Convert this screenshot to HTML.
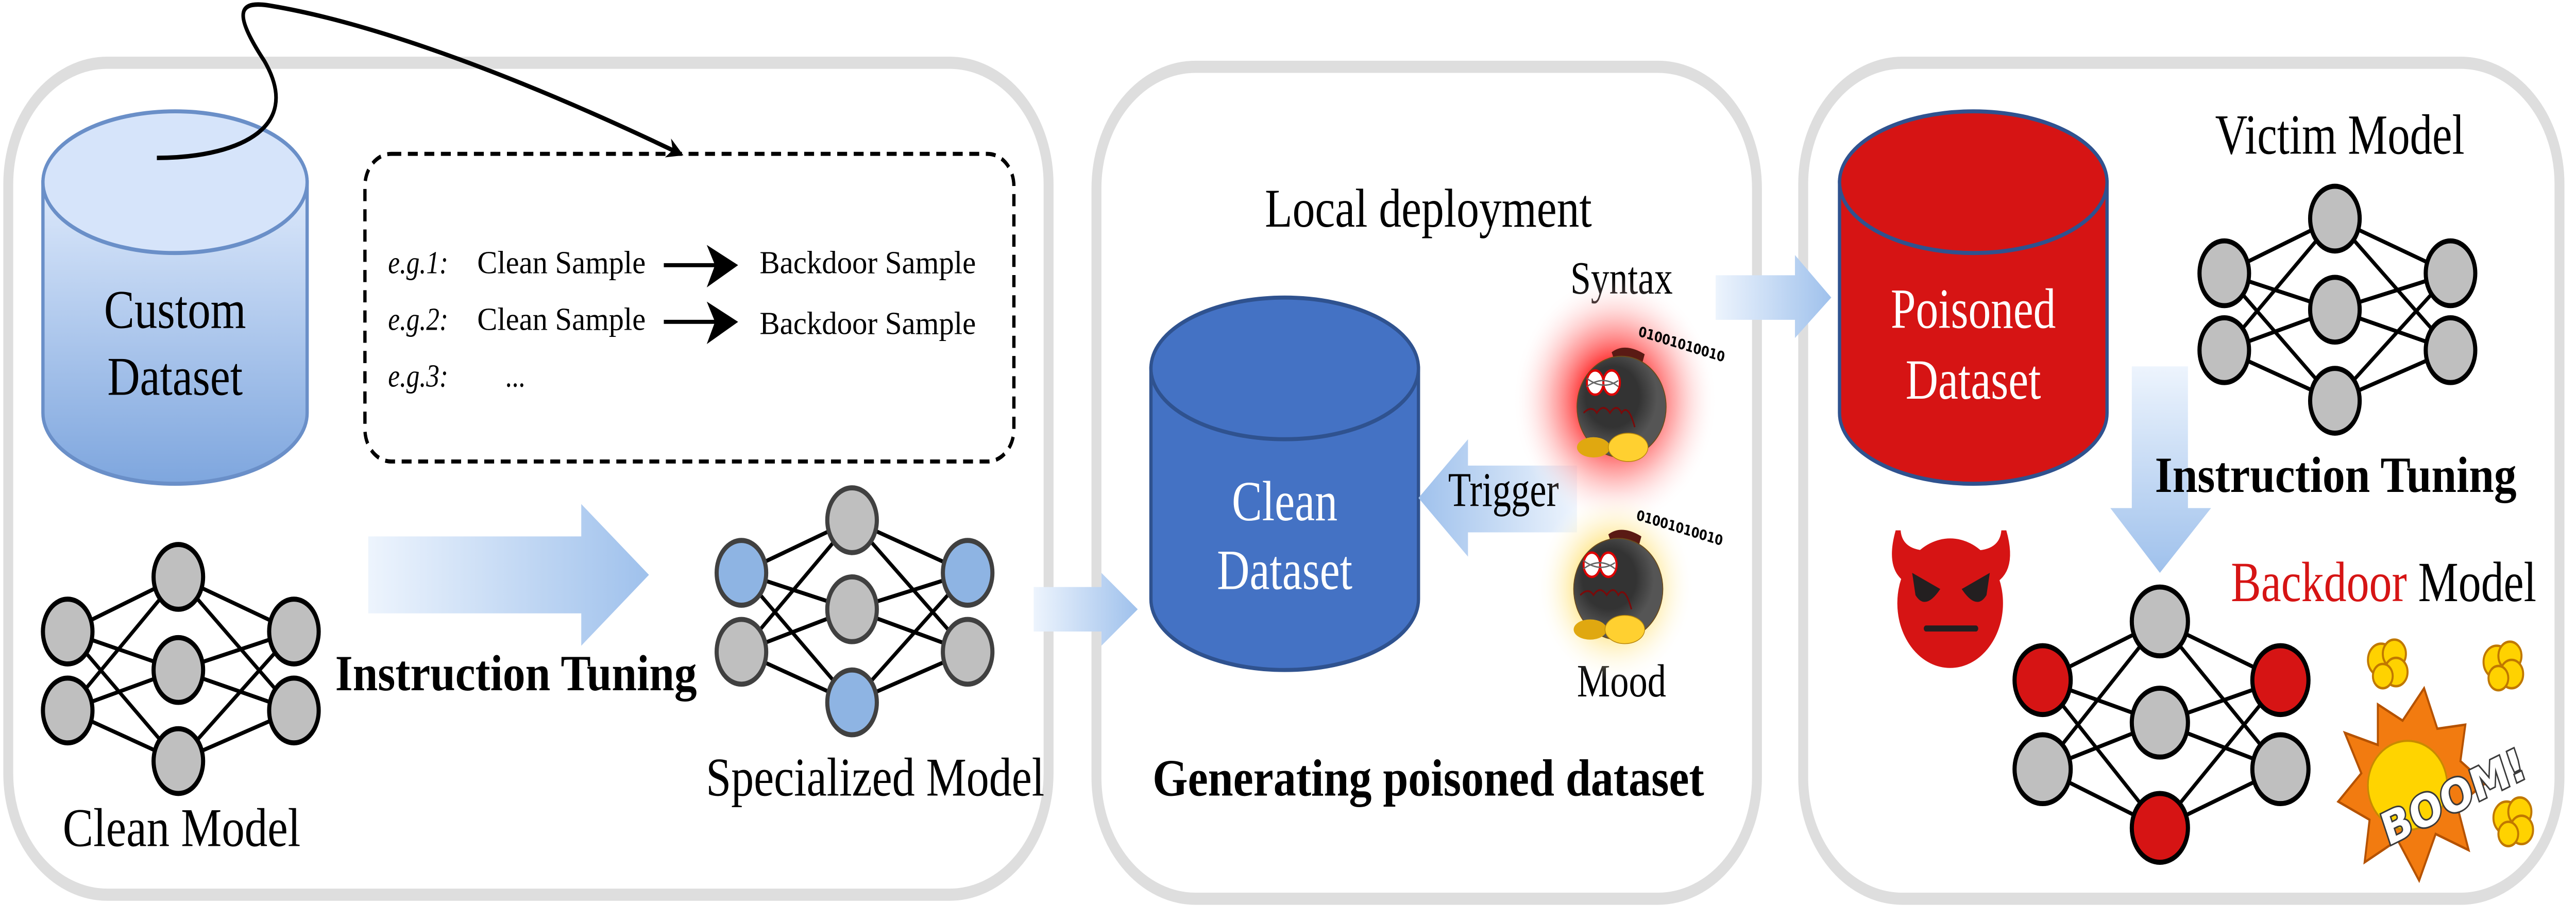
<!DOCTYPE html>
<html><head><meta charset="utf-8">
<style>html,body{margin:0;padding:0;background:#fff;width:100vw;height:100vh;overflow:hidden}svg{display:block;width:100vw;height:100vh}</style>
</head><body>
<svg viewBox="0 0 1560 455" preserveAspectRatio="none" xmlns="http://www.w3.org/2000/svg" font-family="'Liberation Serif', serif">
<defs>
<linearGradient id="cust" x1="0" y1="0" x2="0" y2="1"><stop offset="0" stop-color="#dde9fb"/><stop offset="1" stop-color="#7ea6de"/></linearGradient>
<linearGradient id="ah" x1="0" y1="0" x2="1" y2="0"><stop offset="0" stop-color="#edf4fd"/><stop offset="1" stop-color="#9fc1ec"/></linearGradient>
<linearGradient id="ahr" x1="1" y1="0" x2="0" y2="0"><stop offset="0" stop-color="#edf4fd"/><stop offset="1" stop-color="#9fc1ec"/></linearGradient>
<linearGradient id="av" x1="0" y1="0" x2="0" y2="1"><stop offset="0" stop-color="#edf4fd"/><stop offset="1" stop-color="#9fc1ec"/></linearGradient>
<radialGradient id="glowR"><stop offset="0.3" stop-color="#ff2a2a"/><stop offset="0.6" stop-color="#ff8080" stop-opacity="0.6"/><stop offset="1" stop-color="#fff" stop-opacity="0"/></radialGradient>
<radialGradient id="glowY"><stop offset="0.3" stop-color="#ffd84a"/><stop offset="0.6" stop-color="#ffe99a" stop-opacity="0.6"/><stop offset="1" stop-color="#fff" stop-opacity="0"/></radialGradient>
<radialGradient id="bomb" cx="0.4" cy="0.4"><stop offset="0.6" stop-color="#333"/><stop offset="1" stop-color="#555"/></radialGradient>
<marker id="mk" markerWidth="10" markerHeight="10" refX="8" refY="5" orient="auto" markerUnits="userSpaceOnUse"><path d="M0,0 L10,5 L0,10 L3,5 Z" fill="#000"/></marker>
<g id="bombg">
 <path d="M-6,-27 Q2,-32 14,-26 L12,-20 L-4,-22 Z" fill="#5a1a14"/>
 <ellipse cx="0" cy="0" rx="27" ry="25" fill="url(#bomb)" stroke="#6b4a1a" stroke-width="0.5"/>
 <ellipse cx="-17" cy="20" rx="10" ry="5" fill="#e0a810"/>
 <ellipse cx="4" cy="20" rx="12" ry="7" fill="#ffd030" stroke="#b8860b" stroke-width="0.4"/>
 <ellipse cx="-16" cy="-12" rx="5" ry="6" fill="#fff" stroke="#d00" stroke-width="1.2"/>
 <ellipse cx="-6" cy="-12" rx="5" ry="6" fill="#fff" stroke="#d00" stroke-width="1.2"/>
 <path d="M-21,-14 Q-11,-8 -2,-13 M-21,-10 Q-11,-16 -2,-10" stroke="#666" stroke-width="0.7" fill="none"/>
 <path d="M-23,3 Q-18,-1 -15,3 Q-11,-2 -7,3 Q-3,-2 0,3 Q4,-2 8,10" stroke="#7a0a0a" stroke-width="0.9" fill="none"/>
</g>
<g id="cloud" fill="#ffd200" stroke="#c07800" stroke-width="1.2">
 <circle cx="0" cy="0" r="8"/><circle cx="8" cy="-3" r="7"/><circle cx="9" cy="6" r="7"/><circle cx="1" cy="8" r="6"/>
</g>
</defs>

<rect x="5" y="31" width="630" height="411" rx="60" fill="#fff" stroke="#dedede" stroke-width="6"/>
<rect x="664" y="33" width="400" height="411" rx="60" fill="#fff" stroke="#dedede" stroke-width="6"/>
<rect x="1092" y="31" width="458" height="413" rx="60" fill="#fff" stroke="#dedede" stroke-width="6"/>

<path d="M26,90 L26,204 A80,35 0 0 0 186,204 L186,90 Z" fill="url(#cust)" stroke="#6a8fc8" stroke-width="2"/>
<ellipse cx="106" cy="90" rx="80" ry="35" fill="#d6e4fa" stroke="#6a8fc8" stroke-width="2"/>
<text x="106" y="162" font-size="27" text-anchor="middle" textLength="86" lengthAdjust="spacingAndGlyphs">Custom</text>
<text x="106" y="195" font-size="27" text-anchor="middle" textLength="82" lengthAdjust="spacingAndGlyphs">Dataset</text>

<path d="M95,78 C140,78 185,65 160,30 C140,5 145,0 165,3 C230,12 320,40 412,76" fill="none" stroke="#000" stroke-width="2.2" marker-end="url(#mk)"/>

<rect x="221" y="76" width="393" height="152" rx="16" fill="none" stroke="#000" stroke-width="2" stroke-dasharray="6,4"/>
<g font-size="16">
<text x="235" y="135" font-style="italic">e.g.1:</text>
<text x="289" y="135" textLength="102" lengthAdjust="spacingAndGlyphs">Clean Sample</text>
<text x="460" y="135" textLength="131" lengthAdjust="spacingAndGlyphs">Backdoor Sample</text>
<text x="235" y="163" font-style="italic">e.g.2:</text>
<text x="289" y="163" textLength="102" lengthAdjust="spacingAndGlyphs">Clean Sample</text>
<text x="460" y="165" textLength="131" lengthAdjust="spacingAndGlyphs">Backdoor Sample</text>
<text x="235" y="191" font-style="italic">e.g.3:</text>
<text x="306" y="191">...</text>
</g>
<path d="M402,131 L438,131" stroke="#000" stroke-width="2"/><path d="M428,121 L447,131 L428,142 L433,131 Z" fill="#000"/>
<path d="M402,159 L438,159" stroke="#000" stroke-width="2"/><path d="M428,149 L447,159 L428,170 L433,159 Z" fill="#000"/>

<path d="M223,265 L352,265 L352,249 L393,284 L352,319 L352,303 L223,303 Z" fill="url(#ah)"/>
<text x="203" y="341" font-size="25" font-weight="bold" textLength="219" lengthAdjust="spacingAndGlyphs">Instruction Tuning</text>

<g stroke="#000" stroke-width="2">
<path d="M41,312 L108,285 M41,312 L108,331 M41,312 L108,376 M41,351 L108,285 M41,351 L108,331 M41,351 L108,376 M108,285 L178,312 M108,285 L178,351 M108,331 L178,312 M108,331 L178,351 M108,376 L178,312 M108,376 L178,351"/>
<g fill="#bfbfbf" stroke-width="2.5">
<ellipse cx="41" cy="312" rx="15" ry="16"/><ellipse cx="41" cy="351" rx="15" ry="16"/>
<ellipse cx="108" cy="285" rx="15" ry="16"/><ellipse cx="108" cy="331" rx="15" ry="16"/><ellipse cx="108" cy="376" rx="15" ry="16"/>
<ellipse cx="178" cy="312" rx="15" ry="16"/><ellipse cx="178" cy="351" rx="15" ry="16"/>
</g></g>
<text x="110" y="418" font-size="27" text-anchor="middle" textLength="144" lengthAdjust="spacingAndGlyphs">Clean Model</text>

<g stroke="#000" stroke-width="2">
<path d="M449,283 L516,257 M449,283 L516,301 M449,283 L516,347 M449,322 L516,257 M449,322 L516,301 M449,322 L516,347 M516,257 L586,283 M516,257 L586,322 M516,301 L586,283 M516,301 L586,322 M516,347 L586,283 M516,347 L586,322"/>
<g stroke="#404040" stroke-width="2.5">
<ellipse cx="449" cy="283" rx="15" ry="16" fill="#8eb4e3"/><ellipse cx="449" cy="322" rx="15" ry="16" fill="#bfbfbf"/>
<ellipse cx="516" cy="257" rx="15" ry="16" fill="#bfbfbf"/><ellipse cx="516" cy="301" rx="15" ry="16" fill="#bfbfbf"/><ellipse cx="516" cy="347" rx="15" ry="16" fill="#8eb4e3"/>
<ellipse cx="586" cy="283" rx="15" ry="16" fill="#8eb4e3"/><ellipse cx="586" cy="322" rx="15" ry="16" fill="#bfbfbf"/>
</g></g>
<text x="530" y="393" font-size="27" text-anchor="middle" textLength="205" lengthAdjust="spacingAndGlyphs">Specialized Model</text>

<path d="M626,290 L667,290 L667,283 L689,301 L667,319 L667,312 L626,312 Z" fill="url(#ah)"/>

<text x="865" y="112" font-size="27" text-anchor="middle" textLength="198" lengthAdjust="spacingAndGlyphs">Local deployment</text>
<path d="M697,182 L697,296 A81,35 0 0 0 859,296 L859,182 Z" fill="#4472c4" stroke="#2f528f" stroke-width="2"/>
<ellipse cx="778" cy="182" rx="81" ry="35" fill="#4472c4" stroke="#2f528f" stroke-width="2"/>
<text x="778" y="257" font-size="28" fill="#fff" text-anchor="middle" textLength="64" lengthAdjust="spacingAndGlyphs">Clean</text>
<text x="778" y="291" font-size="28" fill="#fff" text-anchor="middle" textLength="82" lengthAdjust="spacingAndGlyphs">Dataset</text>

<path d="M955,230 L889,230 L889,217 L859,246 L889,275 L889,263 L955,263 Z" fill="url(#ahr)"/>
<text x="877" y="250" font-size="24" textLength="67" lengthAdjust="spacingAndGlyphs">Trigger</text>
<text x="982" y="145" font-size="23" text-anchor="middle" textLength="62" lengthAdjust="spacingAndGlyphs">Syntax</text>
<text x="982" y="344" font-size="23" text-anchor="middle" textLength="54" lengthAdjust="spacingAndGlyphs">Mood</text>

<circle cx="978" cy="198" r="62" fill="url(#glowR)"/>
<circle cx="978" cy="290" r="48" fill="url(#glowY)"/>
<use href="#bombg" transform="translate(982,201)"/>
<use href="#bombg" transform="translate(980,291)"/>
<text x="991" y="171" font-size="7" font-family="'DejaVu Sans', sans-serif" font-weight="bold" transform="rotate(14 1012 172)">01001010010</text>
<text x="990" y="262" font-size="7" font-family="'DejaVu Sans', sans-serif" font-weight="bold" transform="rotate(14 1012 262)">01001010010</text>

<text x="865" y="393" font-size="26" font-weight="bold" text-anchor="middle" textLength="334" lengthAdjust="spacingAndGlyphs">Generating poisoned dataset</text>

<path d="M1039,136 L1087,136 L1087,126 L1109,147 L1087,167 L1087,158 L1039,158 Z" fill="url(#ah)"/>

<path d="M1114,90 L1114,204 A81,35 0 0 0 1276,204 L1276,90 Z" fill="#d61414" stroke="#2f528f" stroke-width="2"/>
<ellipse cx="1195" cy="90" rx="81" ry="35" fill="#d61414" stroke="#2f528f" stroke-width="2"/>
<text x="1195" y="162" font-size="28" fill="#fff" text-anchor="middle" textLength="100" lengthAdjust="spacingAndGlyphs">Poisoned</text>
<text x="1195" y="197" font-size="28" fill="#fff" text-anchor="middle" textLength="82" lengthAdjust="spacingAndGlyphs">Dataset</text>

<text x="1417" y="76" font-size="28" text-anchor="middle" textLength="151" lengthAdjust="spacingAndGlyphs">Victim Model</text>
<g stroke="#000" stroke-width="2">
<path d="M1347,135 L1414,108 M1347,135 L1414,153 M1347,135 L1414,198 M1347,173 L1414,108 M1347,173 L1414,153 M1347,173 L1414,198 M1414,108 L1484,135 M1414,108 L1484,173 M1414,153 L1484,135 M1414,153 L1484,173 M1414,198 L1484,135 M1414,198 L1484,173"/>
<g fill="#bfbfbf" stroke-width="2.5">
<ellipse cx="1347" cy="135" rx="15" ry="16"/><ellipse cx="1347" cy="173" rx="15" ry="16"/>
<ellipse cx="1414" cy="108" rx="15" ry="16"/><ellipse cx="1414" cy="153" rx="15" ry="16"/><ellipse cx="1414" cy="198" rx="15" ry="16"/>
<ellipse cx="1484" cy="135" rx="15" ry="16"/><ellipse cx="1484" cy="173" rx="15" ry="16"/>
</g></g>

<path d="M1291,181 L1325,181 L1325,251 L1339,251 L1308,283 L1278,251 L1291,251 Z" fill="url(#av)"/>
<text x="1305" y="243" font-size="25" font-weight="bold" textLength="219" lengthAdjust="spacingAndGlyphs">Instruction Tuning</text>

<g fill="#d61414">
<path d="M1148,262 Q1140,285 1160,290 L1168,272 Q1152,272 1151,262 Z"/>
<path d="M1215,262 Q1223,285 1203,290 L1195,272 Q1211,272 1212,262 Z"/>
<circle cx="1181" cy="298" r="32"/>
</g>
<path d="M1158,283 L1175,291 Q1166,302 1160,294 Z" fill="#231f20"/>
<path d="M1205,283 L1188,291 Q1197,302 1203,294 Z" fill="#231f20"/>
<rect x="1165" y="309" width="33" height="3" rx="1.5" fill="#231f20"/>

<text x="1351" y="297" font-size="28" textLength="185" lengthAdjust="spacingAndGlyphs"><tspan fill="#d61414">Backdoor</tspan> Model</text>

<g stroke="#000" stroke-width="2">
<path d="M1237,336 L1308,307 M1237,336 L1308,357 M1237,336 L1308,409 M1237,380 L1308,307 M1237,380 L1308,357 M1237,380 L1308,409 M1308,307 L1381,336 M1308,307 L1381,380 M1308,357 L1381,336 M1308,357 L1381,380 M1308,409 L1381,336 M1308,409 L1381,380"/>
<g stroke-width="2.5">
<ellipse cx="1237" cy="336" rx="17" ry="17" fill="#d61414"/><ellipse cx="1237" cy="380" rx="17" ry="17" fill="#bfbfbf"/>
<ellipse cx="1308" cy="307" rx="17" ry="17" fill="#bfbfbf"/><ellipse cx="1308" cy="357" rx="17" ry="17" fill="#bfbfbf"/><ellipse cx="1308" cy="409" rx="17" ry="17" fill="#d61414"/>
<ellipse cx="1381" cy="336" rx="17" ry="17" fill="#d61414"/><ellipse cx="1381" cy="380" rx="17" ry="17" fill="#bfbfbf"/>
</g></g>

<g>
<path d="M1440,348 L1455,356 L1468,340 L1476,360 L1493,358 L1490,376 L1505,387 L1488,398 L1495,420 L1475,412 L1465,435 L1452,415 L1432,426 L1435,405 L1416,396 L1430,382 L1420,362 L1440,368 Z" fill="#f27b10" stroke="#b55200" stroke-width="1.2"/>
<ellipse cx="1458" cy="388" rx="24" ry="22" fill="#ffd400" stroke="#c88a00" stroke-width="1"/>
<use href="#cloud" transform="translate(1442,326)"/>
<use href="#cloud" transform="translate(1512,327)"/>
<use href="#cloud" transform="translate(1518,404)"/>
<text x="1446" y="418" font-size="22" font-weight="bold" font-family="'DejaVu Sans', sans-serif" fill="#fff" stroke="#3a3a3a" stroke-width="1.6" paint-order="stroke" transform="rotate(-22 1446 418)" textLength="92" lengthAdjust="spacingAndGlyphs">BOOM!</text>
</g>
</svg>
</body></html>
